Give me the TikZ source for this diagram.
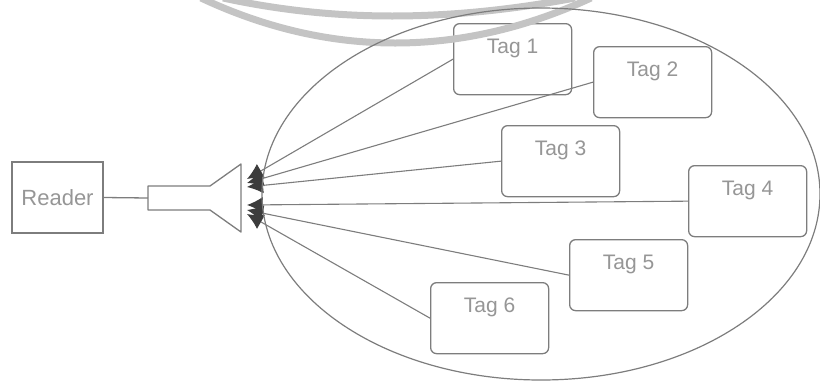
\documentclass[tikz,border=0pt]{standalone}
\usepackage{fontspec}
\setmainfont{Liberation Sans}
\usetikzlibrary{arrows.meta}
\definecolor{inkline}{RGB}{125,125,125}
\definecolor{inktext}{RGB}{150,150,150}
\definecolor{inkhead}{RGB}{60,60,60}
\definecolor{wmark}{RGB}{196,196,196}
\begin{document}
\begin{tikzpicture}[x=1pt,y=-1pt,
  outline/.style={draw=inkline, line width=1.3pt},
  readerbox/.style={outline, minimum width=91pt, minimum height=71pt, inner sep=0pt,
    text=inktext, font=\fontsize{22}{22}\selectfont},
  tagbox/.style={outline, fill=white, rounded corners=6pt, inner sep=0pt,
    minimum width=118pt, text height=30pt, text depth=41pt,
    text=inktext, font=\fontsize{21}{21}\selectfont, anchor=north west},
  signal/.style={draw=inkline, line width=1.1pt,
    -{Latex[length=16pt,width=16pt,color=inkhead]}},
  field/.style={draw=inkline, line width=1.2pt},
  band/.style={draw=wmark, line width=7pt}
]
\useasboundingbox (0,0) rectangle (820,381);

% reader and antenna horn
\node[readerbox] (reader) at (57.5,197.5) {Reader};
\coordinate (hornin) at (148,198);
\draw[outline, line join=round]
  (148,186) -- (210,186) -- (241,164) -- (241,232) -- (210,210) -- (148,210) -- cycle;
\draw[outline] (reader.east) -- (hornin);

% arrow targets at the horn mouth
\coordinate (t1) at (247,179);
\coordinate (t2) at (247,183);
\coordinate (t3) at (247,187);
\coordinate (t4) at (247,205);
\coordinate (t5) at (247,210);
\coordinate (t6) at (247,214);

% tags
\node[tagbox] (tag1) at (453,23)  {Tag 1};
\node[tagbox] (tag2) at (593,46)  {Tag 2};
\node[tagbox] (tag3) at (501,125) {Tag 3};
\node[tagbox] (tag4) at (688,165) {Tag 4};
\node[tagbox] (tag5) at (569,239) {Tag 5};
\node[tagbox] (tag6) at (430,282) {Tag 6};

% tag replies towards the reader antenna
\draw[signal] (tag1.west) -- (t1);
\draw[signal] (tag2.west) -- (t2);
\draw[signal] (tag3.west) -- (t3);
\draw[signal] (tag4.west) -- (t4);
\draw[signal] (tag5.west) -- (t5);
\draw[signal] (tag6.west) -- (t6);

% light grey arcs along the top edge
\draw[band] (223,-2) .. controls (334,22) and (446,22) .. (575,-2);
\draw[band] (201,-2) .. controls (329,58) and (461,58) .. (591,-2);

% reading field
\draw[field] (541,194) ellipse [x radius=279pt, y radius=186pt];
\end{tikzpicture}
\end{document}
